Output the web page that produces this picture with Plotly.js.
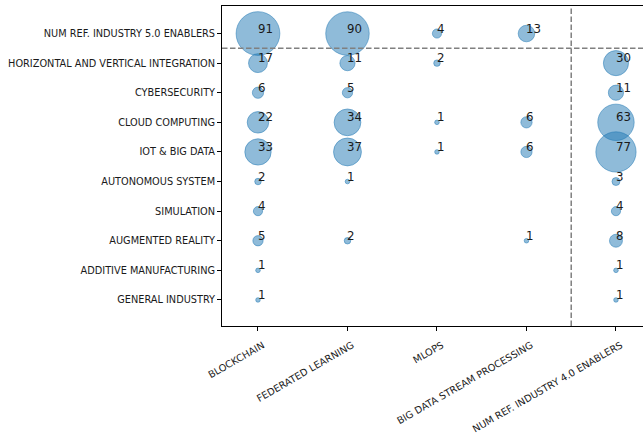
<!DOCTYPE html>
<html>
<head>
<meta charset="utf-8">
<script src="https://cdn.plot.ly/plotly-3.0.1.min.js"></script>
<style>html,body{margin:0;padding:0;background:#fff;}#chart{width:643px;height:443px;}</style>
</head>
<body>
<div id="chart"></div>
<script>
const rows = [
  "NUM REF. INDUSTRY 5.0 ENABLERS",
  "HORIZONTAL AND VERTICAL INTEGRATION",
  "CYBERSECURITY",
  "CLOUD COMPUTING",
  "IOT & BIG DATA",
  "AUTONOMOUS SYSTEM",
  "SIMULATION",
  "AUGMENTED REALITY",
  "ADDITIVE MANUFACTURING",
  "GENERAL INDUSTRY"
];
const columns = [
  "BLOCKCHAIN",
  "FEDERATED LEARNING",
  "MLOPS",
  "BIG DATA STREAM PROCESSING",
  "NUM REF. INDUSTRY 4.0 ENABLERS"
];
const blockchain = [91, 17, 6, 22, 33, 2, 4, 5, 1, 1];
const federatedLearning = [90, 11, 5, 34, 37, 1, null, 2, null, null];
const mlops = [4, 2, null, 1, 1, null, null, null, null, null];
const bigDataStream = [13, null, null, 6, 6, null, null, 1, null, null];
const industry40 = [null, 30, 11, 63, 77, 3, 4, 8, 1, 1];

const columnValues = [blockchain, federatedLearning, mlops, bigDataStream, industry40];

const xs = [], ys = [], vs = [];
columnValues.forEach((vals, ci) => {
  vals.forEach((v, ri) => {
    if (v !== null && v !== undefined) {
      xs.push(columns[ci]); ys.push(rows[ri]); vs.push(v);
    }
  });
});

const trace = {
  type: 'scatter',
  mode: 'markers',
  x: xs, y: ys,
  marker: {
    size: vs,
    sizemode: 'area',
    sizeref: 0.095,
    opacity: 1,
    color: 'rgba(31,119,180,0.5)',
    line: {color: 'rgba(31,119,180,0.5)', width: 1}
  },
  hoverinfo: 'x+y+text', text: vs.map(String),
  showlegend: false, cliponaxis: false
};

const annotations = vs.map((v, i) => ({
  x: xs[i], y: ys[i], xref: 'x', yref: 'y',
  text: String(v), showarrow: false,
  xanchor: 'left', yanchor: 'bottom',
  xshift: -2, yshift: -4,
  font: {family: 'DejaVu Sans', size: 11.8, color: '#1a1a1a'}
}));

const gridLine = {color: 'gray', width: 1.5, dash: '5.5px,2.5px'};
const shapes = [
  {type: 'line', xref: 'paper', yref: 'y', x0: 0, x1: 1, y0: 0.5, y1: 0.5, line: gridLine},
  {type: 'line', xref: 'x', yref: 'paper', x0: 3.5, x1: 3.5, y0: 0, y1: 1, line: gridLine}
];

const layout = {
  width: 643, height: 443,
  margin: {l: 222, r: 0, t: 6, b: 117, pad: 0},
  paper_bgcolor: '#fff', plot_bgcolor: '#fff',
  font: {family: 'DejaVu Sans', size: 9.75, color: '#1a1a1a'},
  xaxis: {
    type: 'category', categoryorder: 'array', categoryarray: columns,
    range: [-0.402, 4.302],
    showgrid: false, zeroline: false,
    showline: true, linecolor: '#000', linewidth: 1, mirror: true,
    ticks: 'outside', ticklen: 4, tickwidth: 1, tickcolor: '#000',
    tickangle: -30, ticklabelstandoff: 5, ticklabelshift: 5,
    tickfont: {family: 'DejaVu Sans', size: 9.75, color: '#1a1a1a'}
  },
  yaxis: {
    type: 'category', categoryorder: 'array', categoryarray: rows,
    range: [9.88, -0.93],
    showgrid: false, zeroline: false,
    showline: true, linecolor: '#000', linewidth: 1,
    ticks: 'outside', ticklen: 4, tickwidth: 1, tickcolor: '#000',
    tickfont: {family: 'DejaVu Sans', size: 9.75, color: '#1a1a1a'}
  },
  shapes: shapes,
  annotations: annotations
};

Plotly.newPlot('chart', [trace], layout, {staticPlot: true, displayModeBar: false});
</script>
</body>
</html>
